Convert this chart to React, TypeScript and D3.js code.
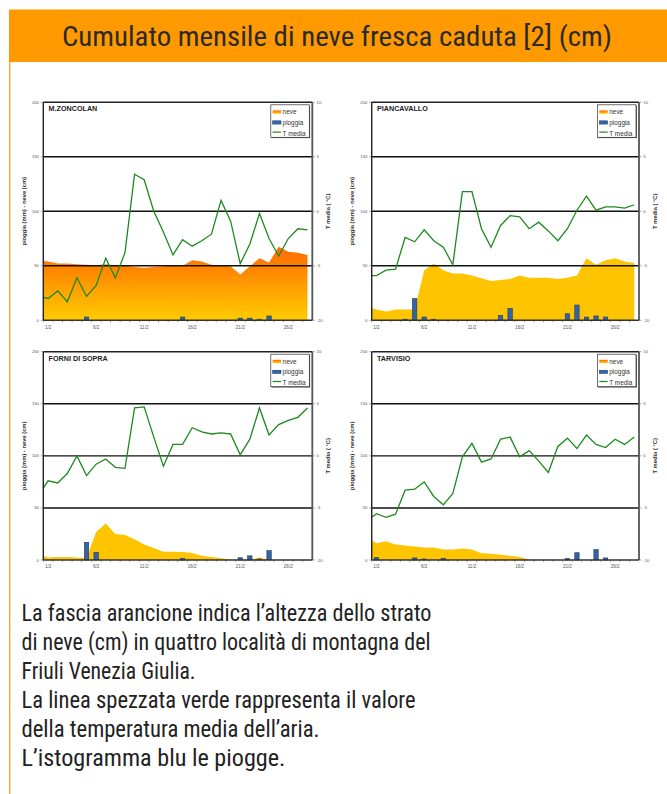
import React from 'react';
import * as d3 from 'd3';

// categories: days of February
const days = [1, 2, 3, 4, 5, 6, 7, 8, 9, 10, 11, 12, 13, 14, 15, 16, 17, 18, 19, 20, 21, 22, 23, 24, 25, 26, 27, 28];
const tickDays = [1, 6, 11, 16, 21, 26];
const tickLabels = ['1/2', '6/2', '11/2', '16/2', '21/2', '26/2'];
const leftTicks = [0, 50, 100, 150, 200];
const rightTicks = [-10, -5, 0, 5, 10];

// snow / temp series: first value sits on the left edge of the plot, then days 1..28
const zoncolanSnow = [54.4, 54, 52, 52, 51.5, 51, 50.5, 51.4, 50.5, 50, 49, 48.3, 49, 49.5, 50, 50, 55, 54, 51, 50, 49.5, 42, 49.5, 57, 53, 67.5, 63, 62, 60];
const zoncolanTemp = [-7.9, -8.0, -7.3, -8.3, -6.1, -7.8, -6.8, -4.3, -6.1, -3.8, 3.4, 2.9, 0.0, -1.9, -4.0, -2.6, -3.2, -2.7, -2.1, 1.0, -0.9, -4.8, -3.0, -0.2, -2.5, -4.1, -2.5, -1.6, -1.7];
const zoncolanRain = [0, 0, 0, 0, 3, 0, 0, 0, 0, 0, 0, 0, 0, 0, 3, 0, 0, 0, 0, 0, 2, 2, 1, 4, 0, 0, 0, 0];

const piancavalloSnow = [11, 10, 8, 10, 10, 10, 46, 52, 46, 43, 43, 41, 38.5, 36, 37, 38, 41, 39, 39, 39, 38, 39, 41, 57, 51, 55, 57, 54, 52.5];
const piancavalloTemp = [-5.9, -5.9, -5.4, -5.3, -2.4, -2.8, -1.7, -2.7, -3.3, -4.9, 1.8, 1.8, -1.6, -3.3, -1.3, -0.4, -0.5, -1.6, -1.0, -1.8, -2.7, -1.6, 0.1, 1.4, 0.1, 0.4, 0.4, 0.3, 0.6];
const piancavalloRain = [0, 0, 0, 1, 20, 3, 1, 0, 0, 0, 0, 0, 0, 4.5, 11, 0, 0, 0, 0, 0, 6, 14, 3, 4, 3, 0, 0, 0];

const forniSnow = [4, 2.5, 3, 3, 2.5, 2, 27, 35, 25, 24, 20, 15, 11.5, 8, 8, 7.7, 6.7, 4, 3, 1.6, 0.6, 0, 0, 2.5, 0, 0, 0, 0, 0];
const forniTemp = [-3.1, -2.4, -2.6, -1.7, 0.0, -1.9, -0.8, -0.3, -1.1, -1.2, 4.6, 4.7, 1.8, -1.0, 1.1, 1.1, 2.7, 2.3, 2.1, 2.2, 2.1, 0.1, 1.6, 4.6, 2.0, 3.0, 3.4, 3.7, 4.6];
const forniRain = [0, 0, 0, 0, 17, 7.4, 0, 0, 0, 0, 0, 0, 0, 0, 1.6, 0, 0, 0, 0, 0, 2.2, 4, 1, 9, 0, 0, 0, 0];

const tarvisioSnow = [19, 16, 18, 15, 14, 13, 12, 12, 10, 10, 11, 10, 6.4, 6, 5, 4, 3, 0.6, 0, 0, 0, 0, 0, 0, 0, 0, 0, 0, 0];
const tarvisioTemp = [-5.9, -5.55, -5.9, -5.6, -3.3, -3.2, -2.5, -3.9, -4.7, -3.6, -0.1, 1.2, -0.6, -0.3, 1.6, 1.8, -0.1, 0.5, -0.5, -1.6, 0.9, 1.7, 0.7, 2.0, 1.1, 0.8, 1.6, 1.1, 1.8];
const tarvisioRain = [2.5, 0, 0, 0, 2, 1, 0, 1.5, 0, 0, 0, 0, 0, 0, 0, 0, 0, 0, 0, 0, 1.5, 7, 0, 10, 2, 0, 0, 0];

const legendLabels = ['neve', 'pioggia', 'T media'];

const caption = [
  'La fascia arancione indica l’altezza dello strato',
  'di neve (cm) in quattro località di montagna del',
  'Friuli Venezia Giulia.',
  'La linea spezzata verde rappresenta il valore',
  'della temperatura media dell’aria.',
  'L’istogramma blu le piogge.',
];
const captionWidths = [410, 409, 174, 394, 298, 264];

const FONT = "'Liberation Sans', Arial, sans-serif";
const NARROW = "'Liberation Sans Narrow', 'Roboto Condensed', 'DejaVu Sans Condensed', 'Liberation Sans', sans-serif";

interface ChartProps {
  id: string;
  name: string;
  snow: number[];
  temp: number[];
  rain: number[];
  gradient: boolean;
  left: number;
  right: number;
  top: number;
  bottom: number;
}

const Chart: React.FC<ChartProps> = ({ id, name, snow, temp, rain, gradient, left, right, top, bottom }) => {
  const x = d3.scaleBand<number>().domain(days).range([left, right]);
  const cx = (d: number) => (x(d) as number) + x.bandwidth() / 2;
  const yL = d3.scaleLinear().domain([0, 200]).range([bottom, top]);
  const yR = d3.scaleLinear().domain([-10, 10]).range([bottom, top]);
  const xs = [left, ...days.map(cx)];

  const area = d3.area<number>().x((_, i) => xs[i]).y0(bottom).y1(v => yL(v));
  const line = d3.line<number>().x((_, i) => xs[i]).y(v => yR(v));
  const bw = x.bandwidth() * 0.46;
  const snowFill = gradient ? `url(#snowGrad${id})` : '#ffc400';

  const lgX = right - 41.5;
  const lgY = top + 2.5;

  return (
    <g>
      <defs>
        <linearGradient id={`snowGrad${id}`} x1="0" y1="0" x2="0" y2="1">
          <stop offset="0" stopColor="#ff6a00" />
          <stop offset="0.35" stopColor="#ff8a00" />
          <stop offset="1" stopColor="#ffcc00" />
        </linearGradient>
      </defs>
      <path d={area(snow) || ''} fill={snowFill} />
      {leftTicks.filter(t => t > 0 && t < 200).map(t => (
        <line key={t} x1={left} x2={right} y1={yL(t)} y2={yL(t)} stroke="#111" strokeWidth={1.4} />
      ))}
      {rain.map((r, i) => r > 0 && (
        <rect key={i} x={cx(days[i]) - bw / 2} y={yL(r)} width={bw} height={bottom - yL(r)}
          fill="#3565a0" stroke="#1d3c66" strokeWidth={0.6} />
      ))}
      <path d={line(temp) || ''} fill="none" stroke="#1e8a1e" strokeWidth={1.3} />

      {/* frame */}
      <line x1={left} x2={right} y1={top} y2={top} stroke="#222" strokeWidth={1.4} />
      <line x1={left} x2={left} y1={top} y2={bottom} stroke="#222" strokeWidth={1.4} />
      <line x1={right} x2={right} y1={top} y2={bottom} stroke="#555" strokeWidth={1.8} />
      <line x1={left} x2={right} y1={bottom} y2={bottom} stroke="#333" strokeWidth={1.4} />

      {/* x ticks */}
      {days.map(d => (
        <line key={d} x1={x(d) as number} x2={x(d) as number} y1={bottom} y2={bottom + 1.8} stroke="#444" strokeWidth={0.6} />
      ))}
      {tickDays.map((d, i) => (
        <text key={d} x={cx(d)} y={bottom + 8.3} fontSize={4.6} fill="#555" textAnchor="middle" fontFamily={FONT}>{tickLabels[i]}</text>
      ))}

      {/* left axis */}
      {leftTicks.map(t => (
        <g key={t}>
          <line x1={left - 2.5} x2={left} y1={yL(t)} y2={yL(t)} stroke="#666" strokeWidth={0.6} />
          <text x={left - 4.4} y={yL(t) + 1.5} fontSize={4.2} fill="#555" textAnchor="end" fontFamily={FONT}>{t}</text>
        </g>
      ))}
      {/* right axis */}
      {rightTicks.map(t => (
        <g key={t}>
          <line x1={right} x2={right + 2.5} y1={yR(t)} y2={yR(t)} stroke="#666" strokeWidth={0.6} />
          <text x={right + 4.3} y={yR(t) + 1.5} fontSize={4.2} fill="#555" fontFamily={FONT}>{t}</text>
        </g>
      ))}

      <text transform={`translate(${left - 17.5},${(top + bottom) / 2}) rotate(-90)`} fontSize={5.8} fontWeight="bold"
        fill="#333" textAnchor="middle" fontFamily={FONT}>pioggia (mm) - neve (cm)</text>
      <text transform={`translate(${right + 18},${(top + bottom) / 2}) rotate(-90)`} fontSize={5.8} fontWeight="bold"
        fill="#333" textAnchor="middle" fontFamily={FONT}>T media ( °C)</text>

      <text x={left + 5.3} y={top + 9} fontSize={7.2} fontWeight="bold" fill="#222" fontFamily={FONT}>{name}</text>

      {/* legend */}
      <rect x={lgX + 0.8} y={lgY + 0.8} width={38.5} height={32.5} fill="#444" />
      <rect x={lgX} y={lgY} width={38.5} height={32.5} fill="#fff" stroke="#333" strokeWidth={0.7} />
      <rect x={lgX + 1.8} y={lgY + 5.6} width={8.4} height={3.3} fill={`url(#snowGrad${id})`} />
      <rect x={lgX + 1.8} y={lgY + 16} width={8.4} height={3.3} fill="#3565a0" stroke="#1d3c66" strokeWidth={0.5} />
      <line x1={lgX + 1.8} x2={lgX + 10.2} y1={lgY + 27.3} y2={lgY + 27.3} stroke="#1e8a1e" strokeWidth={1.2} />
      {legendLabels.map((l, i) => (
        <text key={l} x={lgX + 11.8} y={lgY + 9.3 + i * 10.8} fontSize={6.4} fill="#333" fontFamily={FONT}>{l}</text>
      ))}
    </g>
  );
};

const App: React.FC = () => {
  return (
    <svg width={667} height={794} style={{ position: 'absolute', left: 0, top: 0, background: '#fff' }}>
      <rect x={0} y={0} width={667} height={794} fill="#fff" />
      <rect x={9} y={9.5} width={658} height={52.5} fill="#ff9900" />
      <line x1={9.7} x2={9.7} y1={62} y2={794} stroke="#f6a21e" strokeWidth={1.3} />
      <text x={62} y={46} fontSize={27} fill="#2a2a2a" fontFamily={NARROW}
        textLength={550} lengthAdjust="spacingAndGlyphs">Cumulato mensile di neve fresca caduta [2] (cm)</text>

      <Chart id="z" name="M.ZONCOLAN" snow={zoncolanSnow} temp={zoncolanTemp} rain={zoncolanRain} gradient
        left={43.3} right={312.3} top={102.3} bottom={320.3} />
      <Chart id="p" name="PIANCAVALLO" snow={piancavalloSnow} temp={piancavalloTemp} rain={piancavalloRain} gradient={false}
        left={371.7} right={639} top={102.3} bottom={320.3} />
      <Chart id="f" name="FORNI DI SOPRA" snow={forniSnow} temp={forniTemp} rain={forniRain} gradient={false}
        left={43.3} right={312.3} top={351.7} bottom={560} />
      <Chart id="t" name="TARVISIO" snow={tarvisioSnow} temp={tarvisioTemp} rain={tarvisioRain} gradient={false}
        left={371.7} right={639} top={351.7} bottom={560} />

      {caption.map((c, i) => (
        <text key={i} x={21.5} y={620.5 + i * 29} fontSize={24} fill="#222" fontFamily={NARROW}
          textLength={captionWidths[i]} lengthAdjust="spacingAndGlyphs">{c}</text>
      ))}
    </svg>
  );
};

export default App;
